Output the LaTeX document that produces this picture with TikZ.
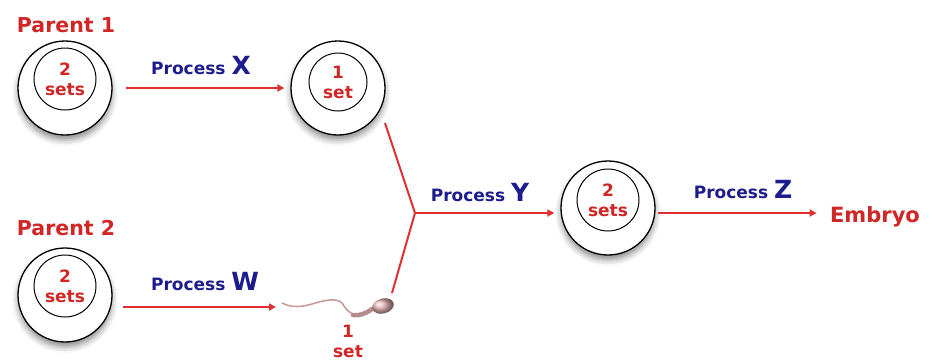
\documentclass[tikz,border=0pt]{standalone}
\usepackage{fontspec}
\setmainfont{DejaVu Sans}
\usepackage{tikz}
\usetikzlibrary{positioning,calc,arrows.meta,shadows.blur}

\definecolor{setred}{RGB}{208,38,38}
\definecolor{linkred}{RGB}{222,48,48}
\definecolor{procblue}{RGB}{28,28,140}
\definecolor{spermpink}{RGB}{226,176,176}
\definecolor{tailpink}{RGB}{200,156,156}

\newcommand\procletter[1]{{\fontsize{25}{25}\selectfont #1}}

\begin{document}
\begin{tikzpicture}[x=1pt, y=-1pt,
    cell/.style={circle, draw, line width=1.3pt, fill=white, minimum size=94pt, inner sep=0pt,
        blur shadow={shadow xshift=0pt, shadow yshift=-5pt, shadow blur radius=6pt, shadow opacity=45}},
    settext/.style={text=setred, align=center, font=\fontsize{17}{20}\selectfont\bfseries},
    nucleus/.style={settext, circle, draw, line width=1pt, minimum size=62pt, inner sep=0pt},
    plabel/.style={text=setred, anchor=base, font=\fontsize{20.5}{22}\selectfont\bfseries},
    proc/.style={text=procblue, anchor=base, font=\fontsize{17}{18}\selectfont\bfseries},
    link/.style={linkred, line width=2pt},
    arrow/.style={link, -{Triangle[length=7pt,width=7pt]}}]
    \useasboundingbox (0,0) rectangle (942,360);

    % cells
    \node[cell] (parentA) at (65,88) {};
    \node[nucleus] (parentAnuc) at (65,79) {2\\sets};
    \node[plabel] (parentAlabel) at (66,32) {Parent 1};

    \node[cell] (parentB) at (65,295) {};
    \node[nucleus] (parentBnuc) at (65,286) {2\\sets};
    \node[plabel] (parentBlabel) at (66,235) {Parent 2};

    \node[cell] (eggcell) at (338,88) {};
    \node[nucleus, minimum size=58pt] (eggnuc) at (338,82) {1\\set};

    \node[cell] (zygote) at (608,208) {};
    \node[nucleus] (zygotenuc) at (608,200) {2\\sets};

    \node[plabel, font=\fontsize{21}{22}\selectfont\bfseries] (embryo) at (875,222) {Embryo};

    % sperm
    \coordinate (spermtail) at (276,307);
    \coordinate (spermneck) at (392,293);
    \coordinate (eggout) at (385,123);
    \coordinate (fuse) at (415,213);
    \draw[tailpink, line width=1.6pt, line cap=round]
        (282,303) .. controls (292,308) and (302,307) .. (312,304)
        .. controls (322,301) and (336,297) .. (342,303)
        .. controls (345,308) and (348,312) .. (353,314);
    \draw[spermpink!80!black, line width=4.5pt, line cap=round]
        (353,315) .. controls (359,316) and (365,314) .. (372,309);
    \shade[ball color=spermpink] (383,306) ellipse [x radius=11, y radius=7.5, rotate=15];
    \node[settext] (spermset) at (348,341) {1\\set};

    % processes
    \draw[arrow, shorten <=13pt, shorten >=6pt] (parentA) -- (eggcell);
    \draw[arrow, shorten <=10pt] (parentB.east |- spermtail) -- (spermtail);
    \draw[link] (eggout) -- (fuse) -- (spermneck);
    \draw[arrow, shorten >=6pt] (fuse) -- (zygote.west |- fuse);
    \draw[arrow, shorten <=2pt, shorten >=10pt] (zygote.east |- fuse) -- (embryo.west |- fuse);

    \node[proc] (procX) at (201,74) {Process \procletter{X}};
    \node[proc] (procW) at (205,290) {Process \procletter{W}};
    \node[proc] (procY) at (480,201) {Process \procletter{Y}};
    \node[proc] (procZ) at (743,198) {Process \procletter{Z}};
\end{tikzpicture}
\end{document}
